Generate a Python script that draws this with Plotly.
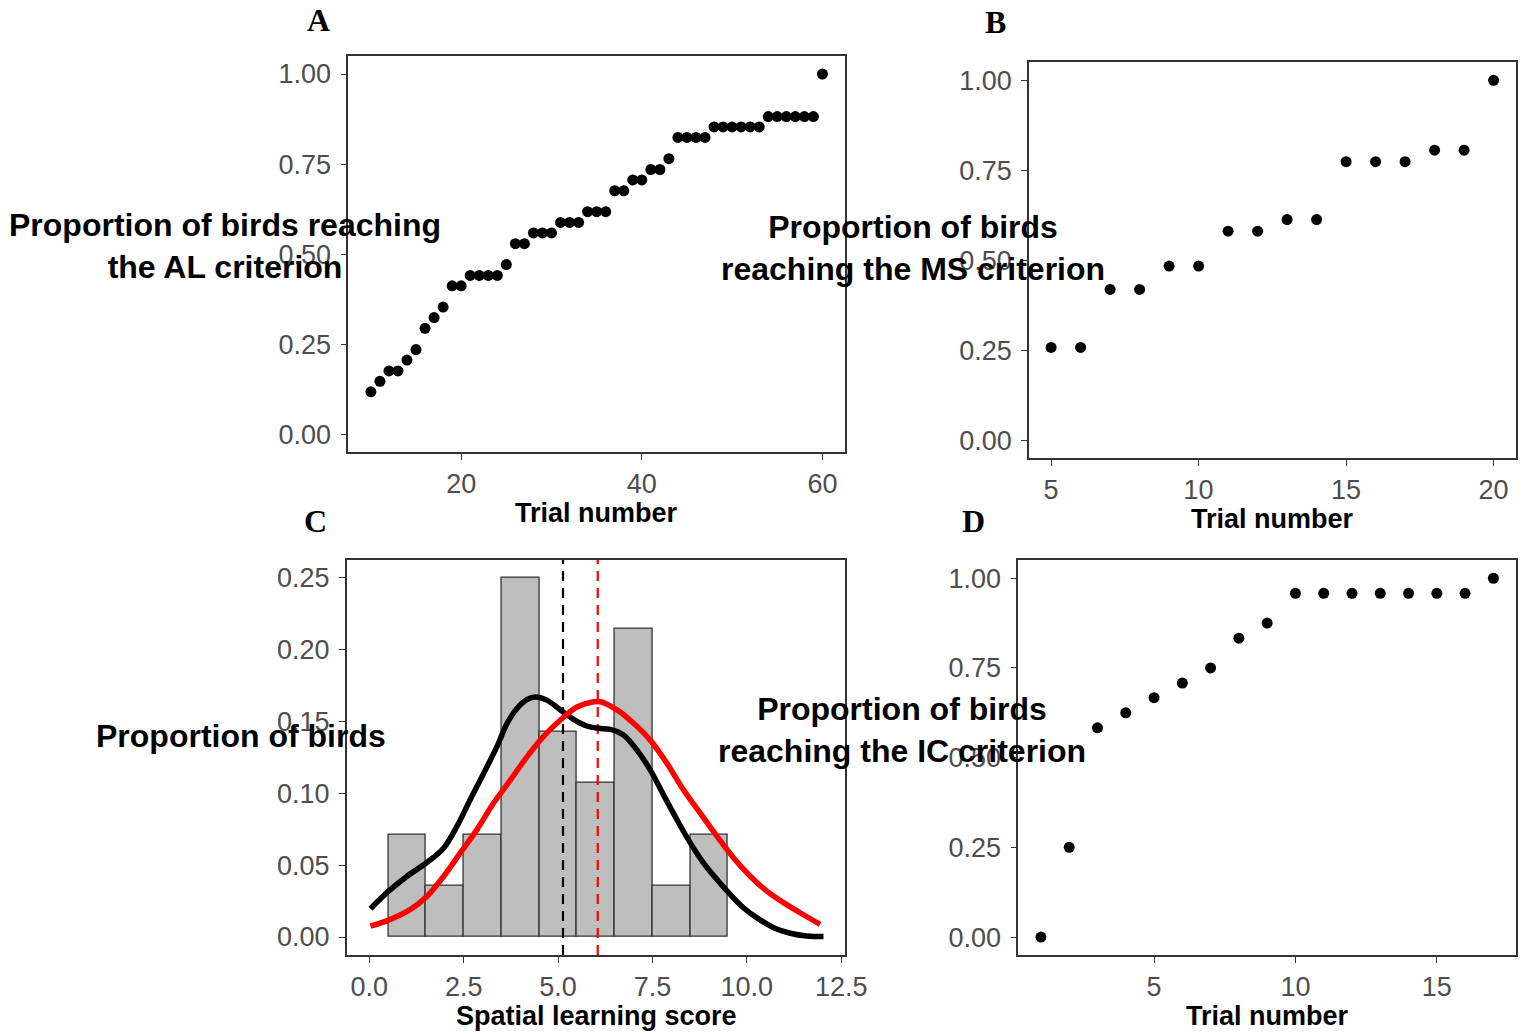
import plotly.graph_objects as go

W, H = 1527, 1034

# ---- Panel A: associative learning (AL) criterion ----
al_trials = [10, 11, 12, 13, 14, 15, 16, 17, 18, 19, 20, 21, 22, 23, 24, 25, 26,
             27, 28, 29, 30, 31, 32, 33, 34, 35, 36, 37, 38, 39, 40, 41, 42, 43,
             44, 45, 46, 47, 48, 49, 50, 51, 52, 53, 54, 55, 56, 57, 58, 59, 60]
al_prop = [0.118, 0.147, 0.176, 0.176, 0.206, 0.235, 0.294, 0.324, 0.353, 0.412,
           0.412, 0.441, 0.441, 0.441, 0.441, 0.471, 0.529, 0.529, 0.559, 0.559,
           0.559, 0.588, 0.588, 0.588, 0.618, 0.618, 0.618, 0.676, 0.676, 0.706,
           0.706, 0.735, 0.735, 0.765, 0.824, 0.824, 0.824, 0.824, 0.853, 0.853,
           0.853, 0.853, 0.853, 0.853, 0.882, 0.882, 0.882, 0.882, 0.882, 0.882,
           1.000]

# ---- Panel B: MS criterion ----
ms_trials = [5, 6, 7, 8, 9, 10, 11, 12, 13, 14, 15, 16, 17, 18, 19, 20]
ms_prop = [0.258, 0.258, 0.419, 0.419, 0.484, 0.484, 0.581, 0.581,
           0.613, 0.613, 0.774, 0.774, 0.774, 0.806, 0.806, 1.000]

# ---- Panel D: IC criterion ----
ic_trials = [1, 2, 3, 4, 5, 6, 7, 8, 9, 10, 11, 12, 13, 14, 15, 16, 17]
ic_prop = [0.000, 0.250, 0.583, 0.625, 0.667, 0.708, 0.750, 0.833, 0.875,
           0.958, 0.958, 0.958, 0.958, 0.958, 0.958, 0.958, 1.000]

# ---- Panel C: spatial learning score distribution ----
score_bins = [1, 2, 3, 4, 5, 6, 7, 8, 9]
score_prop = [0.0714, 0.0357, 0.0714, 0.2500, 0.1429, 0.1071, 0.2143, 0.0357, 0.0714]

kde_x = [0.03, 0.51, 1.00, 1.53, 1.97, 2.32, 2.67, 3.03, 3.38, 3.65, 3.91, 4.18,
         4.40, 4.70, 5.06, 5.41, 5.76, 6.07, 6.38, 6.73, 7.09, 7.44, 7.79, 8.15,
         8.50, 8.85, 9.21, 9.56, 9.91, 10.26, 10.71, 11.15, 11.59, 12.03]
kde_y = [0.0197, 0.0319, 0.0423, 0.0520, 0.0620, 0.0770, 0.0955, 0.1140, 0.1325,
         0.1487, 0.1590, 0.1653, 0.1670, 0.1648, 0.1580, 0.1514, 0.1468, 0.1452,
         0.1445, 0.1406, 0.1300, 0.1163, 0.0990, 0.0816, 0.0655, 0.0516, 0.0400,
         0.0296, 0.0204, 0.0135, 0.0065, 0.0026, 0.0007, 0.0003]

norm_x = [0.03, 0.56, 1.09, 1.53, 1.97, 2.41, 2.85, 3.29, 3.73, 4.18, 4.61, 5.06,
          5.50, 5.94, 6.12, 6.56, 7.00, 7.44, 7.88, 8.32, 8.76, 9.21, 9.65, 10.09,
          10.53, 10.97, 11.41, 11.94]
norm_y = [0.0076, 0.0123, 0.0192, 0.0284, 0.0423, 0.0585, 0.0747, 0.0932, 0.1090,
          0.1255, 0.1394, 0.1510, 0.1600, 0.1637, 0.1637, 0.1580, 0.1487, 0.1370,
          0.1210, 0.1024, 0.0863, 0.0700, 0.0550, 0.0423, 0.0319, 0.0239, 0.0169,
          0.0088]

median_score = 5.13
mean_score = 6.05

# axis limits (5 % expansion around the data)
A_XR, B_XR, C_XR, D_XR = [7.5, 62.5], [4.25, 20.75], [-0.6, 12.6], [0.2, 17.8]
P_YR = [-0.05, 1.05]
C_YR = [-0.0125, 0.2625]

FRAME = "#333333"
TICKLAB = "#4d4d4d"
SANS = "Liberation Sans, Arial, sans-serif"
SERIF = "Liberation Serif, Times New Roman, serif"


def px_x(p):
    return p / W


def px_y(p):
    return 1 - p / H


fig = go.Figure()

mk = dict(color="black", size=11)
fig.add_trace(go.Scatter(x=al_trials, y=al_prop, mode="markers", marker=mk,
                         xaxis="x", yaxis="y"))
fig.add_trace(go.Scatter(x=ms_trials, y=ms_prop, mode="markers", marker=mk,
                         xaxis="x2", yaxis="y2"))
fig.add_trace(go.Bar(x=score_bins, y=score_prop, width=1,
                     marker=dict(color="#bebebe", line=dict(color=FRAME, width=1.3)),
                     xaxis="x3", yaxis="y3"))
fig.add_trace(go.Scatter(x=[median_score, median_score], y=C_YR, mode="lines",
                         line=dict(color="black", width=2.2, dash="10px,7px"),
                         xaxis="x3", yaxis="y3"))
fig.add_trace(go.Scatter(x=[mean_score, mean_score], y=C_YR, mode="lines",
                         line=dict(color="#ff0000", width=2.2, dash="10px,7px"),
                         xaxis="x3", yaxis="y3"))
fig.add_trace(go.Scatter(x=kde_x, y=kde_y, mode="lines",
                         line=dict(color="black", width=5.5, shape="spline"),
                         xaxis="x3", yaxis="y3"))
fig.add_trace(go.Scatter(x=norm_x, y=norm_y, mode="lines",
                         line=dict(color="#ff0000", width=5.5, shape="spline"),
                         xaxis="x3", yaxis="y3"))
fig.add_trace(go.Scatter(x=ic_trials, y=ic_prop, mode="markers", marker=mk,
                         xaxis="x4", yaxis="y4"))


def ax(domain, rng, tickvals, fmt, anchor, standoff):
    return dict(domain=domain, range=rng, tickvals=tickvals, tickformat=fmt,
                anchor=anchor, showgrid=False, zeroline=False, automargin=False,
                showline=True, mirror=True, linecolor=FRAME, linewidth=1.5,
                ticks="outside", ticklen=6, tickwidth=1.3, tickcolor=FRAME,
                tickfont=dict(family=SANS, size=27, color=TICKLAB),
                ticklabelstandoff=standoff)


prop_ticks = [0, 0.25, 0.5, 0.75, 1.0]
fig.update_layout(
    width=W, height=H, autosize=False,
    margin=dict(l=0, r=0, t=0, b=0, pad=0, autoexpand=False),
    paper_bgcolor="white", plot_bgcolor="white", showlegend=False,
    bargap=0,
    xaxis=ax([px_x(348.3), px_x(845)], A_XR, [20, 40, 60], "d", "y", 1),
    yaxis=ax([px_y(452.3), px_y(56)], P_YR, prop_ticks, ".2f", "x", 4),
    xaxis2=ax([px_x(1029), px_x(1515.7)], B_XR, [5, 10, 15, 20], "d", "y2", 1),
    yaxis2=ax([px_y(458.3), px_y(62.3)], P_YR, prop_ticks, ".2f", "x2", 4),
    xaxis3=ax([px_x(346.7), px_x(845)], C_XR, [0, 2.5, 5, 7.5, 10, 12.5], ".1f", "y3", 1),
    yaxis3=ax([px_y(955), px_y(559.7)], C_YR, [0, 0.05, 0.10, 0.15, 0.20, 0.25], ".2f", "x3", 4),
    xaxis4=ax([px_x(1018.3), px_x(1516)], D_XR, [5, 10, 15], "d", "y4", 1),
    yaxis4=ax([px_y(955), px_y(560.3)], P_YR, prop_ticks, ".2f", "x4", 4),
)

notes = [
    # panel letters
    ("A", 318, 20, SERIF, 32),
    ("B", 995, 22, SERIF, 32),
    ("C", 315, 521, SERIF, 32),
    ("D", 973, 521, SERIF, 32),
    # axis titles
    ("Trial number", 596, 513, SANS, 27),
    ("Trial number", 1272, 519, SANS, 27),
    ("Spatial learning score", 596, 1016, SANS, 27),
    ("Trial number", 1267, 1016, SANS, 27),
    # y titles
    ("Proportion of birds reaching<br>the AL criterion", 225, 246, SANS, 32),
    ("Proportion of birds<br>reaching the MS criterion", 913, 248, SANS, 32),
    ("Proportion of birds", 241, 736, SANS, 32),
    ("Proportion of birds<br>reaching the IC criterion", 902, 730, SANS, 32),
]
for text, x, y, fam, size in notes:
    fig.add_annotation(text=f"<b>{text}</b>", x=px_x(x), y=px_y(y),
                       xref="paper", yref="paper", xanchor="center",
                       yanchor="middle", showarrow=False, align="center",
                       font=dict(family=fam, size=size, color="black"))

fig.write_html("out.html")
